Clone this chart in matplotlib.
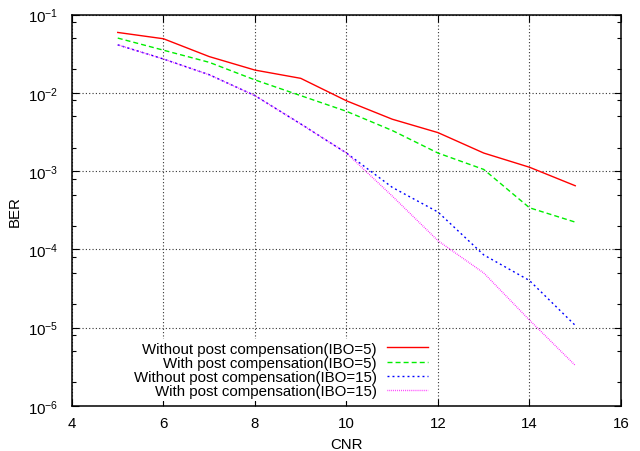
import matplotlib
matplotlib.use("Agg")
import matplotlib.pyplot as plt
from matplotlib.ticker import LogLocator, FixedLocator, NullFormatter

plt.rcParams['font.family'] = ['Liberation Sans', 'DejaVu Sans']
plt.rcParams['mathtext.fontset'] = 'custom'
plt.rcParams['mathtext.rm'] = 'Liberation Sans'
plt.rcParams['mathtext.it'] = 'Liberation Sans:italic'
plt.rcParams['mathtext.bf'] = 'Liberation Sans:bold'

cnr = [5, 6, 7, 8, 9, 10, 11, 12, 13, 14, 15]

ber_wo_ibo5 = [0.059, 0.049, 0.029, 0.0195, 0.0153, 0.0079, 0.0046, 0.0031, 0.0017, 0.00112, 0.00065]
ber_w_ibo5 = [0.050, 0.035, 0.0245, 0.0146, 0.0092, 0.0058, 0.0033, 0.0017, 0.00105, 0.00034, 0.000223]
ber_wo_ibo15 = [0.041, 0.027, 0.017, 0.0092, 0.0040, 0.00170, 0.00062, 0.00030, 8.5e-05, 4.0e-05, 1.07e-05]
ber_w_ibo15 = [0.041, 0.027, 0.017, 0.0092, 0.0040, 0.00170, 0.00048, 0.000129, 5.0e-05, 1.25e-05, 3.3e-06]

labels = [
    "Without post compensation(IBO=5)",
    "With post compensation(IBO=5)",
    "Without post compensation(IBO=15)",
    "With post compensation(IBO=15)",
]

x_ticks = [4, 6, 8, 10, 12, 14, 16]

fig = plt.figure(figsize=(6.4, 4.52), dpi=100)
ax = fig.add_axes([0.1125, 0.0996, 0.8578, 0.8661])

ax.plot(cnr, ber_wo_ibo5, color='#ff0000', lw=1.0, ls='-', label=labels[0])
ax.plot(cnr, ber_w_ibo5, color='#00ee00', lw=1.0, ls=(0, (3.6, 2.2)), label=labels[1])
ax.plot(cnr, ber_wo_ibo15, color='#0000ff', lw=1.0, ls=(0, (1.4, 2.2)), label=labels[2])
ax.plot(cnr, ber_w_ibo15, color='#ff00ff', lw=1.0, ls=(0, (0.5, 0.9)), label=labels[3])

ax.set_yscale('log')
ax.set_xlim(4, 16)
ax.set_ylim(1e-6, 1e-1)
ax.xaxis.set_major_locator(FixedLocator(x_ticks))
ax.set_xticklabels([str(v) for v in x_ticks])
ax.yaxis.set_major_locator(LogLocator(base=10, numticks=10))
ax.yaxis.set_minor_locator(LogLocator(base=10, subs=(2.0, 5.0, 8.0), numticks=10))
ax.yaxis.set_minor_formatter(NullFormatter())

ax.grid(True, which='major', color='#333333', ls=(0, (1, 2)), lw=0.8)
ax.tick_params(which='both', direction='in', top=True, right=True, labelsize=10.8)
ax.tick_params(which='major', length=5, width=0.8)
ax.tick_params(which='minor', length=3, width=0.8)
ax.tick_params(axis='y', pad=10)
ax.tick_params(axis='x', pad=7)
for s in ax.spines.values():
    s.set_linewidth(1.1)

ax.set_xlabel('CNR', fontsize=10.8, labelpad=5)
ax.set_ylabel('BER', fontsize=10.8, labelpad=4)

# opaque key box without a border, like a gnuplot key
leg = ax.legend(loc='lower right', bbox_to_anchor=(0.662, 0.0), frameon=True,
                fancybox=False, facecolor='white', edgecolor='none', framealpha=1.0,
                markerfirst=False, fontsize=10.8, handlelength=2.7,
                handletextpad=0.7, labelspacing=0.02, borderaxespad=0.3,
                borderpad=0.2)

fig.savefig('out.png', dpi=100)
